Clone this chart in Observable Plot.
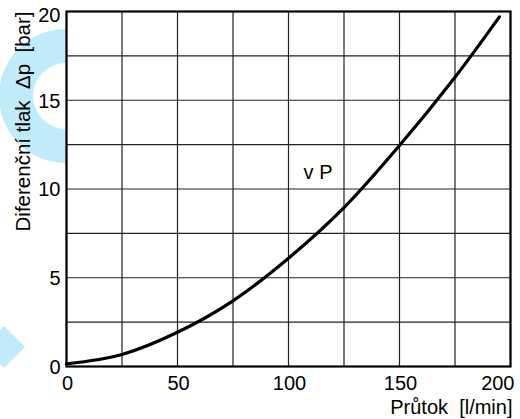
<!DOCTYPE html>
<html>
<head>
<meta charset="utf-8">
<script src="https://cdn.jsdelivr.net/npm/d3@7"></script>
<script src="https://cdn.jsdelivr.net/npm/@observablehq/plot@0.6"></script>
<style>
  html, body { margin: 0; padding: 0; background: white; }
  #wrap { position: relative; width: 520px; height: 419px; }
  #deco { position: absolute; left: 0; top: 0; }
  #chart { position: absolute; left: 0; top: 0; }
</style>
</head>
<body>
<div id="wrap">
  <svg id="deco" width="520" height="419">
    <path fill="#c0ecfa" fill-rule="evenodd"
      d="M66,29 a67,67 0 1,0 0.001,0 Z M66,63 a33,33 0 1,0 0.001,0 Z"/>
    <path fill="#c0ecfa" d="M4,326 L25,347 L4,368 L-17,347 Z"/>
  </svg>
  <div id="chart"></div>
</div>
<script>
// Data
const flow = [0, 25, 50, 75, 100, 125, 150, 175, 195];          // Průtok [l/min]
const dp   = [0.15, 0.68, 1.93, 3.7, 6.1, 8.95, 12.45, 16.3, 19.7]; // Δp [bar]
const xTickLabels = [0, 50, 100, 150, 200];
const yTickLabels = [0, 5, 10, 15, 20];
const xGrid = [0, 25, 50, 75, 100, 125, 150, 175, 200];
const yGrid = [0, 2.5, 5, 7.5, 10, 12.5, 15, 17.5, 20];
const seriesLabel = "v P";
const seriesLabelPos = {x: 113.3, y: 10.9};
const xTitle = "Průtok  [l/min]";
const yTitle = "Diferenční tlak  Δp  [bar]";

const curve = flow.map((x, i) => ({x, y: dp[i]}));
const FS = 20;

const plot = Plot.plot({
  width: 520,
  height: 419,
  marginLeft: 66,
  marginRight: 10,
  marginTop: 11,
  marginBottom: 53,
  style: {background: "transparent", fontFamily: "'Liberation Sans', Arial, Helvetica, sans-serif", fontSize: "20px", color: "black"},
  x: {domain: [0, 200], axis: null},
  y: {domain: [0, 20], axis: null},
  marks: [
    Plot.frame({fill: "white", stroke: "none"}),
    Plot.ruleX(xGrid, {x: d => d, stroke: "#222", strokeWidth: 1.2}),
    Plot.ruleY(yGrid, {y: d => d, stroke: "#222", strokeWidth: 1.2}),
    Plot.frame({stroke: "black", strokeWidth: 2.2}),
    Plot.line(curve, {x: "x", y: "y", curve: "catmull-rom", stroke: "black", strokeWidth: 3.2}),
    // x tick labels
    Plot.text(xTickLabels.filter(d => d !== 200), {x: d => d, y: 0, text: d => String(d), dy: 17, dx: 1, fontSize: FS, fill: "black"}),
    Plot.text(xTickLabels.filter(d => d === 200), {x: d => d, y: 0, text: d => String(d), dy: 17, dx: 4, textAnchor: "end", fontSize: FS, fill: "black"}),
    // y tick labels
    Plot.text(yTickLabels.filter(d => d !== 20), {x: 0, y: d => d, text: d => String(d), dx: -6, dy: 1, textAnchor: "end", fontSize: FS, fill: "black"}),
    Plot.text(yTickLabels.filter(d => d === 20), {x: 0, y: d => d, text: d => String(d), dx: -6, dy: 4, textAnchor: "end", fontSize: FS, fill: "black"}),
    // series label
    Plot.text([seriesLabel], {x: seriesLabelPos.x, y: seriesLabelPos.y, text: d => d, fontSize: FS, fill: "black"}),
    // axis titles
    Plot.text([xTitle], {frameAnchor: "bottom-right", text: d => d, textAnchor: "end", lineAnchor: "middle", dx: 2, dy: 41, fontSize: FS, fill: "black"}),
    Plot.text([yTitle], {frameAnchor: "top-left", text: d => d, rotate: -90, textAnchor: "end", lineAnchor: "bottom", dx: -37, dy: 0, fontSize: 20.5, fill: "black"})
  ]
});
document.getElementById("chart").appendChild(plot);
</script>
</body>
</html>
